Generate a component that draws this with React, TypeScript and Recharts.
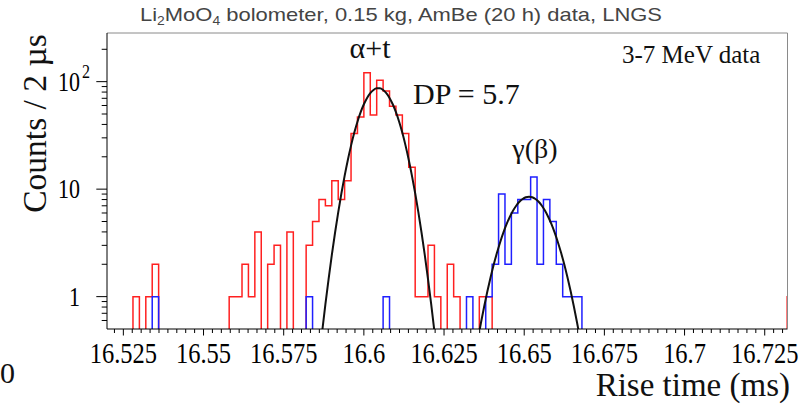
import React from 'react';
import { LineChart, Line, XAxis, YAxis } from 'recharts';

// ---- data ----
const BIN_LO = 16.52; // ms, left edge of first bin
const BIN_W = 0.002; // ms (2 us bins)
const FLOOR = 0.3; // empty bins are drawn below the log axis floor (clipped)

// alpha+t (red) counts per 2 us bin, starting at 16.520 ms
const RED_COUNTS = [
  0, 0, 0, 0, 1, 0, 1, 2, 0, 0,
  0, 0, 0, 0, 0, 0, 0, 0, 0, 1,
  1, 2, 1, 4, 0, 2, 3, 0, 4, 0,
  0, 3, 5, 8, 7, 12, 8, 12, 33, 47,
  121, 49, 103, 82, 59, 49, 33, 16, 1, 1,
  3, 1, 0, 2, 1, 0, 0, 0, 1, 1,
  0, 0, 0, 0, 0, 0, 0, 0, 0, 0,
  0, 0, 0, 0, 0, 0, 0, 0, 0, 0,
  0, 0, 0, 0, 0, 0, 0, 0, 0, 0,
  0, 0, 0, 0, 0, 0, 0, 0, 0, 0,
  0, 0, 0, 0, 0, 0, 1,
];

// gamma(beta) (blue) counts per 2 us bin, starting at 16.520 ms
const BLUE_COUNTS = [
  0, 0, 0, 0, 0, 0, 0, 1, 0, 0,
  0, 0, 0, 0, 0, 0, 0, 0, 0, 0,
  0, 0, 0, 0, 0, 0, 0, 0, 0, 0,
  0, 1, 0, 0, 0, 0, 0, 0, 0, 0,
  0, 0, 0, 1, 0, 0, 0, 0, 0, 0,
  0, 0, 0, 0, 0, 0, 1, 0, 0, 1,
  2, 9, 2, 6, 8, 8, 13, 2, 8, 5,
  2, 1, 1, 1, 0, 0,
];

// Gaussian fit curves
const ALPHA_FIT_X = [
  16.586, 16.587, 16.588, 16.589, 16.59, 16.591, 16.592, 16.593, 16.594, 16.595,
  16.596, 16.597, 16.598, 16.599, 16.6, 16.601, 16.602, 16.603, 16.604, 16.605,
  16.606, 16.607, 16.608, 16.609, 16.61, 16.611, 16.612, 16.613, 16.614, 16.615,
  16.616, 16.617, 16.618, 16.619, 16.62, 16.621, 16.622, 16.623,
];
const ALPHA_FIT_Y = [
  0.257, 0.474, 0.846, 1.457, 2.43, 3.91, 6.09, 9.16, 13.3, 18.7,
  25.4, 33.4, 42.4, 52.0, 61.6, 70.6, 78.2, 83.7, 86.6, 86.6,
  83.7, 78.2, 70.6, 61.6, 52.0, 42.4, 33.4, 25.4, 18.7, 13.3,
  9.16, 6.09, 3.91, 2.43, 1.457, 0.846, 0.474, 0.257,
];
const GAMMA_FIT_X = [
  16.6345, 16.6355, 16.6365, 16.6375, 16.6385, 16.6395, 16.6405, 16.6415, 16.6425,
  16.6435, 16.6445, 16.6455, 16.6465, 16.6475, 16.6485, 16.6495, 16.6505, 16.6515,
  16.6525, 16.6535, 16.6545, 16.6555, 16.6565, 16.6575, 16.6585, 16.6595, 16.6605,
  16.6615, 16.6625, 16.6635, 16.6645, 16.6655, 16.6665, 16.6675, 16.6685,
];
const GAMMA_FIT_Y = [
  0.264, 0.392, 0.569, 0.806, 1.115, 1.506, 1.99, 2.555, 3.21,
  3.94, 4.72, 5.51, 6.29, 7.01, 7.63, 8.1, 8.4, 8.5,
  8.4, 8.1, 7.63, 7.01, 6.29, 5.51, 4.72, 3.94, 3.21,
  2.555, 1.99, 1.506, 1.115, 0.806, 0.569, 0.392, 0.264,
];

// axes
const X_DOMAIN = [16.5199, 16.7321];
const Y_DOMAIN = [0.5, 283.5];
const X_MAJOR = [16.525, 16.55, 16.575, 16.6, 16.625, 16.65, 16.675, 16.7, 16.725];
const X_LABELS = ['16.525', '16.55', '16.575', '16.6', '16.625', '16.65', '16.675', '16.7', '16.725'];
const X_MINOR_PER_MAJOR = 9;
const Y_TICKS = [0.6, 0.7, 0.8, 0.9, 1, 2, 3, 4, 5, 6, 7, 8, 9, 10, 20, 30, 40, 50, 60, 70, 80, 90, 100, 200];
const Y_MAJOR = [1, 10, 100];

// ---- tables built from the arrays ----
const histTable = (counts: number[]) => {
  const rows = counts.map((c, k) => ({ x: BIN_LO + k * BIN_W, y: c > 0 ? c : FLOOR }));
  rows.push({ x: BIN_LO + counts.length * BIN_W, y: FLOOR });
  return rows;
};
const redTable = histTable(RED_COUNTS);
const blueTable = histTable(BLUE_COUNTS);
const alphaFit = ALPHA_FIT_X.map((x, i) => ({ x, y: ALPHA_FIT_Y[i] }));
const gammaFit = GAMMA_FIT_X.map((x, i) => ({ x, y: GAMMA_FIT_Y[i] }));

const xStep = (X_MAJOR[1] - X_MAJOR[0]) / X_MINOR_PER_MAJOR;
const xTicks: number[] = [];
for (let i = -20; i <= 100; i++) {
  const v = X_MAJOR[0] + i * xStep;
  if (v >= X_DOMAIN[0] && v <= X_DOMAIN[1]) xTicks.push(v);
}

const SERIF = '"Liberation Serif", "Times New Roman", serif';
const SANS = '"Liberation Sans", Arial, sans-serif';

const XTick = (props: any) => {
  const { x, y, payload } = props;
  const idx = X_MAJOR.findIndex((m) => Math.abs(m - payload.value) < 1e-7);
  const major = idx >= 0;
  return (
    <g>
      <line x1={x} x2={x} y1={y} y2={y + (major ? 6.5 : 4)} stroke="#000" strokeWidth={1} />
      {major && (
        <text
          transform={`translate(${x},${y + 34.3}) scale(1,1.2)`}
          textAnchor="middle"
          fontSize={24.5}
          fontFamily={SERIF}
          fill="#000"
        >
          {X_LABELS[idx]}
        </text>
      )}
    </g>
  );
};

const YTick = (props: any) => {
  const { x, y, payload } = props;
  const v = payload.value;
  const major = Y_MAJOR.some((m) => Math.abs(m - v) < 1e-9);
  return (
    <g>
      <line x1={x - (major ? 10.7 : 5.3)} x2={x} y1={y} y2={y} stroke="#000" strokeWidth={1} />
      {major && v === 1 && (
        <text transform={`translate(80,${y + 9}) scale(1,1.2)`} textAnchor="end" fontSize={22} fontFamily={SERIF} fill="#000">1</text>
      )}
      {major && v === 10 && (
        <text transform={`translate(80,${y + 9}) scale(1,1.2)`} textAnchor="end" fontSize={22} fontFamily={SERIF} fill="#000">10</text>
      )}
      {major && v === 100 && (
        <g>
          <text transform={`translate(80,${y + 9}) scale(1,1.2)`} textAnchor="end" fontSize={22} fontFamily={SERIF} fill="#000">10</text>
          <text transform={`translate(82,${y - 3.5}) scale(1,1.2)`} textAnchor="start" fontSize={16} fontFamily={SERIF} fill="#000">2</text>
        </g>
      )}
    </g>
  );
};

export default function App() {
  return (
    <div style={{ position: 'absolute', left: 0, top: 0, width: 805, height: 406, background: '#fff' }}>
      <LineChart
        width={805}
        height={406}
        margin={{ top: 32, right: 16.5, bottom: 0, left: 0 }}
        style={{ position: 'absolute', left: 0, top: 0 }}
      >
        <XAxis
          dataKey="x"
          type="number"
          domain={X_DOMAIN}
          allowDataOverflow
          ticks={xTicks}
          interval={0}
          tickSize={0}
          tickMargin={0}
          tick={<XTick />}
          height={77}
          axisLine={{ stroke: '#000', strokeWidth: 1 }}
        />
        <XAxis
          xAxisId="top"
          orientation="top"
          dataKey="x"
          type="number"
          domain={X_DOMAIN}
          allowDataOverflow
          tick={false}
          tickLine={false}
          height={1}
          axisLine={{ stroke: '#8a8a8a', strokeWidth: 1 }}
        />
        <YAxis
          scale="log"
          domain={Y_DOMAIN}
          allowDataOverflow
          ticks={Y_TICKS}
          interval={0}
          tickSize={0}
          tickMargin={0}
          tick={<YTick />}
          width={107}
          axisLine={{ stroke: '#000', strokeWidth: 1 }}
        />
        <YAxis
          yAxisId="right"
          orientation="right"
          scale="log"
          domain={Y_DOMAIN}
          allowDataOverflow
          tick={false}
          tickLine={false}
          width={1}
          axisLine={{ stroke: '#8a8a8a', strokeWidth: 1 }}
        />
        <Line
          data={redTable}
          dataKey="y"
          type="stepAfter"
          stroke="#ff2020"
          strokeWidth={1.5}
          dot={false}
          activeDot={false}
          isAnimationActive={false}
        />
        <Line
          data={blueTable}
          dataKey="y"
          type="stepAfter"
          stroke="#1f1fff"
          strokeWidth={1.5}
          dot={false}
          activeDot={false}
          isAnimationActive={false}
        />
        <Line
          data={alphaFit}
          dataKey="y"
          type="monotone"
          stroke="#111"
          strokeWidth={2}
          dot={false}
          activeDot={false}
          isAnimationActive={false}
        />
        <Line
          data={gammaFit}
          dataKey="y"
          type="monotone"
          stroke="#111"
          strokeWidth={2}
          dot={false}
          activeDot={false}
          isAnimationActive={false}
        />
      </LineChart>
      <svg
        width={805}
        height={406}
        style={{ position: 'absolute', left: 0, top: 0, pointerEvents: 'none' }}
      >
        <text x={140} y={21} fontSize={19} fontFamily={SANS} fill="#444" textLength={522} lengthAdjust="spacingAndGlyphs">
          Li<tspan fontSize={12} dy={4}>2</tspan><tspan dy={-4}>MoO</tspan><tspan fontSize={12} dy={4}>4</tspan><tspan dy={-4}> bolometer, 0.15 kg, AmBe (20 h) data, LNGS</tspan>
        </text>
        <text x={370} y={58} textAnchor="middle" fontSize={30} fontFamily={SERIF} fill="#111">α+t</text>
        <text x={413} y={103.5} fontSize={30} fontFamily={SERIF} fill="#111">DP = 5.7</text>
        <text x={535} y={158} textAnchor="middle" fontSize={28} fontFamily={SERIF} fill="#111">γ(β)</text>
        <text x={622} y={63} fontSize={25} fontFamily={SERIF} fill="#111">3-7 MeV data</text>
        <text transform="translate(46,123.5) rotate(-90)" textAnchor="middle" fontSize={33.5} fontFamily={SERIF} fill="#111">Counts / 2 µs</text>
        <text x={790} y={396} textAnchor="end" fontSize={33} fontFamily={SERIF} fill="#111">Rise time (ms)</text>
        <text x={0} y={383} fontSize={30} fontFamily={SERIF} fill="#111">0</text>
      </svg>
    </div>
  );
}
